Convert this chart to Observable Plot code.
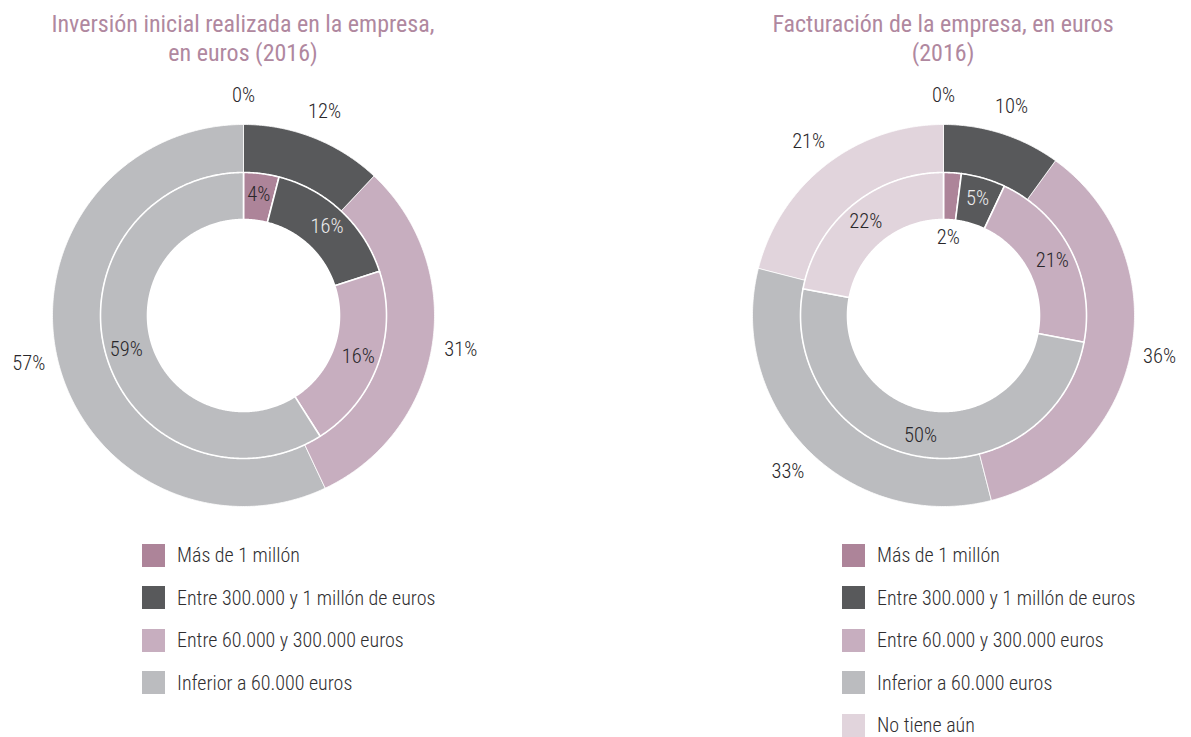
<!DOCTYPE html>
<html>
<head>
<meta charset="utf-8">
<script src="https://cdn.jsdelivr.net/npm/d3@7"></script>
<script src="https://cdn.jsdelivr.net/npm/@observablehq/plot@0.6"></script>
<style>
  html, body { margin: 0; padding: 0; background: #fff; }
  body { font-family: Roboto, "DejaVu Sans Condensed", sans-serif; font-stretch: condensed; font-weight: 300; }
  #wrap { position: relative; width: 1191px; height: 737px; overflow: hidden; }
  .col { position: absolute; top: 0; width: 486px; height: 737px; }
  .title { position: absolute; top: 10px; left: 0; width: 486px; text-align: center; color: #b0889f; font-size: 24px; line-height: 29px; font-weight: 400; }
  .chart { position: absolute; top: 80px; left: 0; }
  .legend { position: absolute; top: 534px; left: 142px; }
  .item { height: 42.5px; display: flex; align-items: center; color: #2f2e30; font-size: 20px; }
  .item span.tx { line-height: 16px; }
  .sw { width: 23px; height: 23px; margin-right: 12px; flex: none; }
</style>
</head>
<body>
<div id="wrap"></div>
<script>
// ---------- data ----------
const categories = ["Más de 1 millón", "Entre 300.000 y 1 millón de euros", "Entre 60.000 y 300.000 euros", "Inferior a 60.000 euros", "No tiene aún"];

const titleInversion = ["Inversión inicial realizada en la empresa,", "en euros (2016)"];
const titleFacturacion = ["Facturación de la empresa, en euros", "(2016)"];

const inversionOuter = [0, 12, 31, 57];
const inversionOuterLabels = ["0%", "12%", "31%", "57%"];
const inversionInner = [4, 16, 21, 59];
const inversionInnerLabels = ["4%", "16%", "16%", "59%"];

const facturacionOuter = [0, 10, 36, 33, 21];
const facturacionOuterLabels = ["0%", "10%", "36%", "33%", "21%"];
const facturacionInner = [2, 5, 21, 50, 22];
const facturacionInnerLabels = ["2%", "5%", "21%", "50%", "22%"];

// ---------- styles ----------
const palette = ["#ad8499", "#58595b", "#c7aebf", "#bbbcbf", "#e1d4dc"];
const FONT = "Roboto, 'DejaVu Sans Condensed', sans-serif";
const W = 486, H = 460, CX = 243, CY = 235;
const R_HOLE = 96, R_MID = 143, R_OUT = 191;

function ringSlices(values, labels, ring, r0, r1) {
  const total = d3.sum(values);
  let acc = 0;
  return values.map((v, i) => {
    const a0 = acc / total * 2 * Math.PI;
    acc += v;
    const a1 = acc / total * 2 * Math.PI;
    return {ring, i, cat: categories[i], value: v, label: labels[i], a0, a1, r0, r1};
  });
}

function polygon(s) {
  const pts = [];
  const n = Math.max(2, Math.ceil((s.a1 - s.a0) / (Math.PI / 360)));
  const id = s.ring + "-" + s.i;
  for (let k = 0; k <= n; k++) {
    const a = s.a0 + (s.a1 - s.a0) * k / n;
    pts.push({id, cat: s.cat, x: s.r1 * Math.sin(a), y: s.r1 * Math.cos(a)});
  }
  for (let k = n; k >= 0; k--) {
    const a = s.a0 + (s.a1 - s.a0) * k / n;
    pts.push({id, cat: s.cat, x: s.r0 * Math.sin(a), y: s.r0 * Math.cos(a)});
  }
  return pts;
}

function donut(outerVals, outerLabels, innerVals, innerLabels) {
  const outer = ringSlices(outerVals, outerLabels, "o", R_MID, R_OUT);
  const inner = ringSlices(innerVals, innerLabels, "i", R_HOLE, R_MID);
  const outerPts = outer.filter(s => s.value > 0).flatMap(polygon);
  const innerPts = inner.filter(s => s.value > 0).flatMap(polygon);
  const labelPos = [
    ...outer.map(s => ({...s, r: 220})),
    ...inner.map(s => ({...s, r: s.value < 3 ? 78 : 122}))
  ].map(s => {
    const m = (s.a0 + s.a1) / 2;
    return {...s, lx: s.r * Math.sin(m), ly: s.r * Math.cos(m)};
  });
  return Plot.plot({
    width: W, height: H,
    margin: 0,
    x: {domain: [-CX, W - CX], axis: null},
    y: {domain: [CY - H, CY], axis: null},
    color: {domain: categories, range: palette},
    style: {fontFamily: FONT, fontStretch: "condensed", fontWeight: 300, background: "transparent", overflow: "visible"},
    marks: [
      Plot.line(outerPts, {x: "x", y: "y", z: "id", fill: "cat", stroke: "#ffffff", strokeWidth: 0.8, curve: "linear-closed"}),
      Plot.line(innerPts, {x: "x", y: "y", z: "id", fill: "cat", stroke: "#ffffff", strokeWidth: 1.6, curve: "linear-closed"}),
      Plot.text(labelPos, {
        x: "lx", y: "ly", text: "label",
        fontSize: 20.5, fontFamily: FONT, fontWeight: 300,
        fill: d => (d.ring === "i" && d.i === 1 && d.value >= 3) ? "#ececed" : "#29272a",
        textAnchor: "middle", lineAnchor: "middle"
      })
    ]
  });
}

function column(left, titleLines, nCats, chart) {
  const col = document.createElement("div");
  col.className = "col";
  col.style.left = left + "px";
  const t = document.createElement("div");
  t.className = "title";
  t.innerHTML = titleLines.join("<br>");
  col.appendChild(t);
  const c = document.createElement("div");
  c.className = "chart";
  c.appendChild(chart);
  col.appendChild(c);
  const lg = document.createElement("div");
  lg.className = "legend";
  categories.slice(0, nCats).forEach((name, i) => {
    const it = document.createElement("div");
    it.className = "item";
    const sw = document.createElement("span");
    sw.className = "sw";
    sw.style.background = palette[i];
    const tx = document.createElement("span");
    tx.className = "tx";
    tx.textContent = name;
    it.appendChild(sw);
    it.appendChild(tx);
    lg.appendChild(it);
  });
  col.appendChild(lg);
  document.getElementById("wrap").appendChild(col);
}

column(0, titleInversion, 4, donut(inversionOuter, inversionOuterLabels, inversionInner, inversionInnerLabels));
column(700, titleFacturacion, 5, donut(facturacionOuter, facturacionOuterLabels, facturacionInner, facturacionInnerLabels));
</script>
</body>
</html>
